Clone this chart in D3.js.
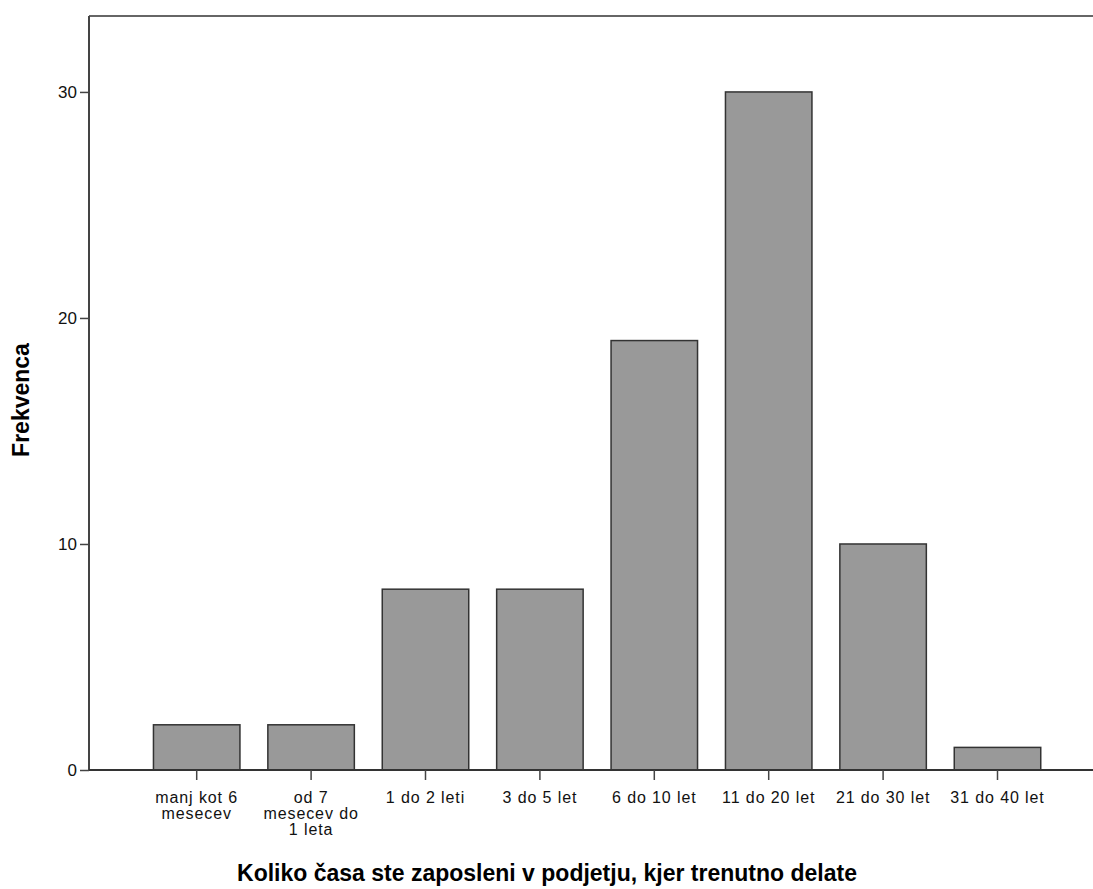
<!DOCTYPE html>
<html><head><meta charset="utf-8">
<script src="https://cdn.jsdelivr.net/npm/d3@7"></script>
<style>body{margin:0;background:#fff}svg{display:block}text{font-family:"Liberation Sans",Arial,sans-serif}</style>
</head><body>
<script>
const categories = ["manj kot 6|mesecev","od 7|mesecev do|1 leta","1 do 2 leti","3 do 5 let","6 do 10 let","11 do 20 let","21 do 30 let","31 do 40 let"];
const values = [2,2,8,8,19,30,10,1];
const yTicks = [0,10,20,30];
const xTitle = "Koliko časa ste zaposleni v podjetju, kjer trenutno delate";
const yTitle = "Frekvenca";

(function(){
const W=1093,H=889;
const FONT="Liberation Sans, Arial, sans-serif";
const svg=d3.select("body").append("svg").attr("width",W).attr("height",H);
const mLeft=89, mTop=16, mBottom=770;
const x=d3.scaleBand().domain(categories).range([139.5,1054.7]).paddingInner(0.244).paddingOuter(0.122);
const y=d3.scaleLinear().domain([0,33.36]).range([mBottom,mTop]);

svg.append("line").attr("x1",mLeft).attr("x2",W).attr("y1",mTop).attr("y2",mTop).attr("stroke","#666").attr("stroke-width",2);

svg.selectAll("rect.bar").data(values).join("rect").attr("class","bar")
 .attr("x",(d,i)=>x(categories[i])).attr("width",x.bandwidth())
 .attr("y",d=>y(d)).attr("height",d=>mBottom-y(d))
 .attr("fill","#999999").attr("stroke","#333").attr("stroke-width",1.5);

const ya=svg.append("g").attr("transform",`translate(${mLeft},0)`).call(d3.axisLeft(y).tickValues(yTicks).tickSize(9).tickPadding(3).tickFormat(d3.format("d")));
ya.select(".domain").attr("d",`M0,${mTop}V${mBottom}`).attr("stroke","#444").attr("stroke-width",2);
ya.selectAll(".tick line").attr("stroke","#444").attr("stroke-width",1.5);
ya.selectAll(".tick text").attr("font-size",17).attr("fill","#111").attr("font-family",FONT).attr("dy","0.35em");

const xa=svg.append("g").attr("transform",`translate(0,${mBottom})`).call(d3.axisBottom(x).tickSize(10).tickFormat(""));
xa.select(".domain").attr("d",`M${mLeft},0H${W}`).attr("stroke","#333").attr("stroke-width",2);
xa.selectAll(".tick line").attr("stroke","#444").attr("stroke-width",1.5);
xa.selectAll(".tick").each(function(d){
  const lines=d.split("|");
  const t=d3.select(this).append("text").attr("fill","#111").attr("font-size",16).attr("letter-spacing","0.9px").attr("text-anchor","middle").attr("font-family",FONT);
  lines.forEach((l,i)=>t.append("tspan").attr("x",0).attr("y",33+i*16).text(l));
});

svg.append("text").attr("x",547).attr("y",881).attr("text-anchor","middle").attr("font-size",23).attr("font-weight","bold").attr("fill","#000").attr("font-family",FONT).text(xTitle);
svg.append("text").attr("transform","translate(29,400) rotate(-90)").attr("text-anchor","middle").attr("font-size",23).attr("font-weight","bold").attr("fill","#000").attr("font-family",FONT).text(yTitle);
})();
</script>
</body></html>
